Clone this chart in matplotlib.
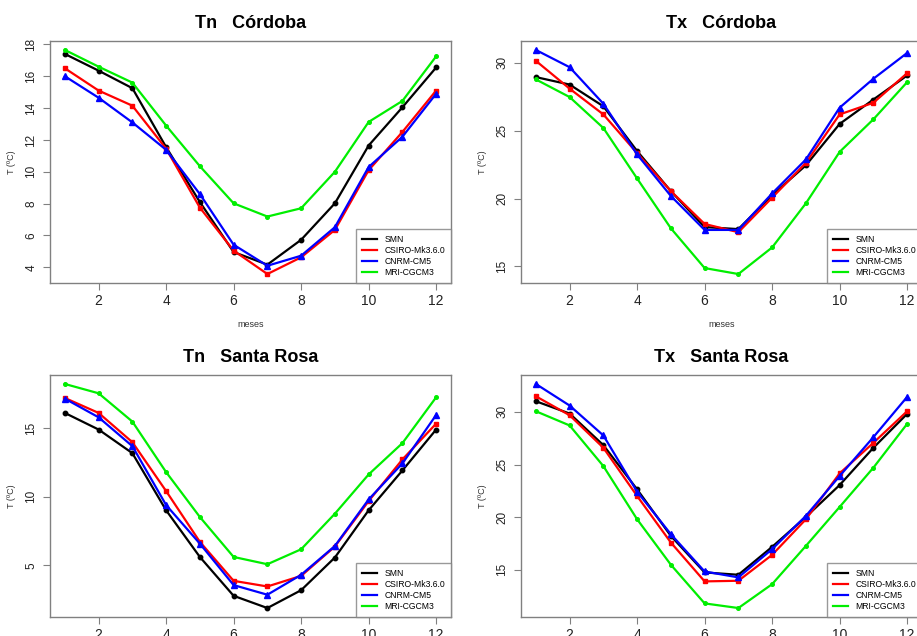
import matplotlib
matplotlib.use("Agg")
import matplotlib.pyplot as plt

plt.rcParams['font.family'] = ['Liberation Sans', 'DejaVu Sans']

meses = list(range(1, 13))
modelos = ["SMN", "CSIRO-Mk3.6.0", "CNRM-CM5", "MRI-CGCM3"]
colores = ["black", "red", "blue", "#00ee00"]
marcas = ["o", "s", "^", "o"]
tamanos = [3.2, 3.4, 4.0, 2.6]

# Tn Cordoba
tn_cba_smn = [17.4, 16.35, 15.25, 11.55, 8.1, 4.96, 4.17, 5.73, 8.02, 11.65, 14.05, 16.55]
tn_cba_csiro = [16.5, 15.1, 14.15, 11.45, 7.75, 5.05, 3.58, 4.63, 6.35, 10.1, 12.5, 15.1]
tn_cba_cnrm = [16.0, 14.65, 13.1, 11.38, 8.6, 5.42, 4.1, 4.73, 6.52, 10.3, 12.2, 14.9]
tn_cba_mri = [17.65, 16.6, 15.6, 12.9, 10.35, 8.02, 7.19, 7.71, 10.0, 13.13, 14.45, 17.25]

# Tx Cordoba
tx_cba_smn = [28.95, 28.4, 26.8, 23.5, 20.55, 17.9, 17.75, 20.25, 22.45, 25.5, 27.3, 29.07]
tx_cba_csiro = [30.15, 28.1, 26.2, 23.35, 20.55, 18.13, 17.52, 20.07, 22.63, 26.2, 27.06, 29.24]
tx_cba_cnrm = [30.95, 29.68, 26.99, 23.25, 20.19, 17.69, 17.69, 20.38, 22.88, 26.7, 28.83, 30.73]
tx_cba_mri = [28.78, 27.48, 25.2, 21.48, 17.81, 14.88, 14.44, 16.4, 19.65, 23.44, 25.84, 28.58]

# Tn Santa Rosa
tn_sr_smn = [16.09, 14.88, 13.16, 9.0, 5.6, 2.77, 1.88, 3.18, 5.56, 9.0, 11.9, 14.88]
tn_sr_csiro = [17.18, 16.09, 13.96, 10.4, 6.7, 3.86, 3.45, 4.22, 6.36, 9.67, 12.7, 15.31]
tn_sr_cnrm = [17.13, 15.77, 13.67, 9.38, 6.57, 3.55, 2.85, 4.3, 6.4, 9.79, 12.41, 15.94]
tn_sr_mri = [18.2, 17.52, 15.46, 11.78, 8.51, 5.6, 5.07, 6.16, 8.75, 11.61, 13.89, 17.23]

# Tx Santa Rosa
tx_sr_smn = [31.01, 29.84, 26.84, 22.64, 18.22, 14.75, 14.53, 17.18, 20.02, 23.05, 26.59, 29.81]
tx_sr_csiro = [31.48, 29.68, 26.59, 22.01, 17.59, 13.9, 13.96, 16.42, 19.8, 24.16, 27.06, 30.06]
tx_sr_cnrm = [32.65, 30.6, 27.76, 22.42, 18.38, 14.84, 14.28, 16.96, 20.12, 23.91, 27.6, 31.42]
tx_sr_mri = [30.06, 28.71, 24.85, 19.8, 15.48, 11.81, 11.37, 13.64, 17.27, 20.97, 24.7, 28.86]

paneles = [
    ("Tn   Córdoba", [tn_cba_smn, tn_cba_csiro, tn_cba_cnrm, tn_cba_mri], [4, 6, 8, 10, 12, 14, 16, 18]),
    ("Tx   Córdoba", [tx_cba_smn, tx_cba_csiro, tx_cba_cnrm, tx_cba_mri], [15, 20, 25, 30]),
    ("Tn   Santa Rosa", [tn_sr_smn, tn_sr_csiro, tn_sr_cnrm, tn_sr_mri], [5, 10, 15]),
    ("Tx   Santa Rosa", [tx_sr_smn, tx_sr_csiro, tx_sr_cnrm, tx_sr_mri], [15, 20, 25, 30]),
]

W, H = 917, 636
fig = plt.figure(figsize=(W / 100, H / 100), dpi=100)
# axes boxes in pixels: left, top
cajas = [(50, 41), (521, 41), (50, 375), (521, 375)]
ancho, alto = 401, 242

gris = "#808080"
for i, ((titulo, series, yticks), (x0, y0)) in enumerate(zip(paneles, cajas)):
    ax = fig.add_axes([x0 / W, 1 - (y0 + alto) / H, ancho / W, alto / H])
    for s, nom, c, m, ms in zip(series, modelos, colores, marcas, tamanos):
        ax.plot(meses, s, color=c, lw=1.6, marker=m, ms=ms, label=nom)
    ax.margins(x=0.04, y=0.04)
    ax.set_xticks([2, 4, 6, 8, 10, 12])
    ax.set_yticks(yticks)
    for lab in ax.get_yticklabels():
        lab.set_rotation(90)
        lab.set_va("center")
    ax.tick_params(direction="out", length=5, width=0.8, color=gris,
                   labelcolor="#222222", pad=3)
    ax.tick_params(axis="x", labelsize=10)
    ax.tick_params(axis="y", labelsize=8.5, pad=4)
    for sp in ax.spines.values():
        sp.set_color(gris)
        sp.set_linewidth(1.0)
    ax.set_title(titulo, fontsize=13, fontweight="bold", pad=9)
    ax.set_ylabel("T (ºC)", fontsize=6.5, color="#333333")
    ax.yaxis.set_label_coords(-34 / ancho, 0.5)
    if i < 2:
        # the lower row's x label falls below the page
        ax.set_xlabel("meses", fontsize=6.5, color="#333333")
        ax.xaxis.set_label_coords(0.5, -37 / alto)
    leg = ax.legend(loc="lower right", fontsize=6.2, frameon=True, fancybox=False,
                    borderaxespad=0, handlelength=1.8, handletextpad=0.8,
                    labelspacing=0.22, borderpad=0.7)
    leg.get_frame().set_edgecolor(gris)
    leg.get_frame().set_linewidth(1.0)
    for h in leg.legend_handles:
        h.set_marker("")

fig.savefig("out.png", dpi=100)
